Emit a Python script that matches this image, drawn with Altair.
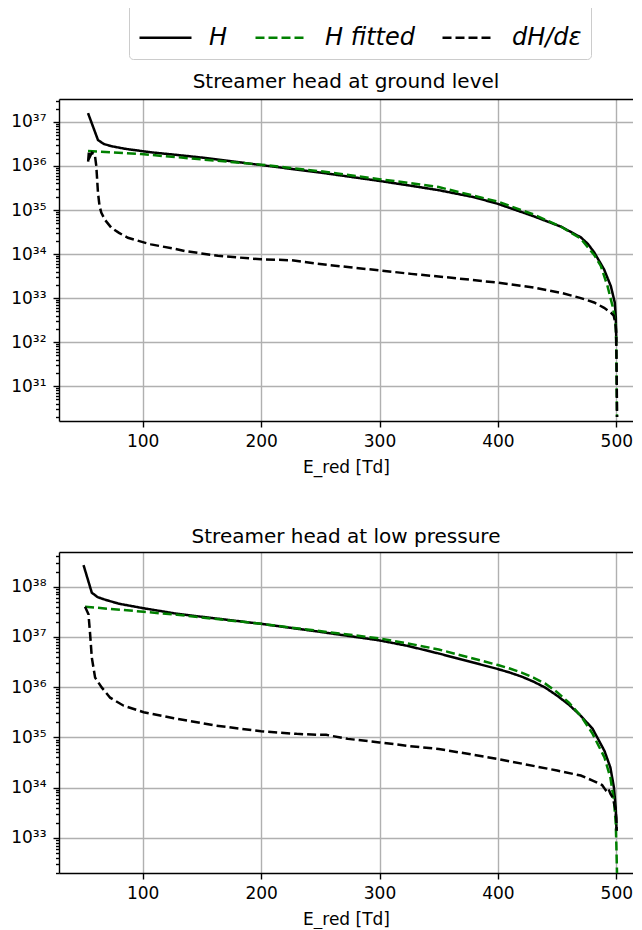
import math
import altair as alt
import pandas as pd

SERIES = ["H", "H fitted", "dH/dε"]
COLORS = ["black", "#008000", "black"]
DASHES = [[1, 0], [9, 4], [9, 4]]
XTICKS = [100, 200, 300, 400, 500]
XDOMAIN = [29.3, 514.1]

TITLE_TOP = "Streamer head at ground level"
TITLE_BOT = "Streamer head at low pressure"

# ---- ground level (values are log10) ----
H_top_E = [53.8, 62.2, 67, 73.4, 85, 98.7, 107, 132.5, 150, 200, 250, 300, 326.6, 350, 380, 400,
           430, 453.4, 470, 476, 481.3, 489.7, 495.4, 498.7, 499.6, 500.0]
H_top_v = [37.2, 36.59, 36.5, 36.45, 36.39, 36.34, 36.31, 36.24, 36.19, 36.02, 35.85, 35.66, 35.55,
           35.45, 35.29, 35.14, 34.86, 34.62, 34.38, 34.23, 34.04, 33.65, 33.27, 32.9, 32.55, 32.0]

G_top_E = [53.8, 98.7, 107, 132.5, 200, 250, 300, 326.6, 350, 400, 430, 453.4, 470, 481.3, 486.9,
           492.6, 496.8, 499.0, 499.6, 500.0, 500.3, 500.6]
G_top_v = [36.34, 36.27, 36.25, 36.19, 36.03, 35.88, 35.70, 35.61, 35.52, 35.19, 34.9, 34.62, 34.35,
           33.98, 33.73, 33.27, 32.82, 32.5, 32.36, 31.8, 31.0, 30.3]

D_top_E = [53.9, 54.6, 55.6, 57.0, 59.5, 60.8, 62.2, 63.5, 65, 68, 73.4, 80, 87.5, 101.5, 107,
           126.8, 135.3, 163.5, 200, 225.3, 247.8, 275, 300, 326.6, 365, 400, 430, 453.4, 470,
           481.3, 489.7, 495.4, 497.8, 499.2, 499.8, 500.1, 500.4, 500.6]
D_top_v = [36.1, 36.34, 36.22, 36.3, 36.27, 36.0, 35.4, 35.1, 34.94, 34.78, 34.6, 34.48, 34.37,
           34.26, 34.22, 34.12, 34.07, 33.96, 33.88, 33.86, 33.78, 33.7, 33.63, 33.55, 33.45,
           33.35, 33.24, 33.12, 33.0, 32.9, 32.78, 32.67, 32.6, 32.45, 32.25, 31.8, 31.0, 30.3]

# ---- low pressure (values are log10) ----
H_bot_E = [50.0, 57.0, 62, 69.7, 80, 100.8, 129, 150, 200, 250, 300, 324, 350, 400, 410, 420,
           430, 440, 450, 460, 470, 480, 490, 495, 498, 499.5, 500.2]
H_bot_v = [38.43, 37.88, 37.79, 37.73, 37.66, 37.57, 37.46, 37.40, 37.26, 37.1, 36.93, 36.82,
           36.67, 36.36, 36.29, 36.21, 36.11, 35.99, 35.83, 35.65, 35.43, 35.17, 34.73, 34.4,
           34.0, 33.6, 33.14]

G_bot_E = [51.3, 100.8, 129, 200, 300, 324, 350, 400, 410, 420, 430, 440, 450, 460, 470, 480,
           490, 495, 498, 499.5, 500.0, 500.3, 500.6]
G_bot_v = [37.6, 37.5, 37.44, 37.26, 36.97, 36.87, 36.75, 36.44, 36.37, 36.29, 36.19, 36.07,
           35.9, 35.69, 35.43, 35.07, 34.6, 34.2, 33.74, 33.3, 32.9, 32.6, 32.3]

D_bot_E = [51.3, 54.2, 55.6, 57.0, 59.8, 65.5, 72.5, 83.9, 100.8, 126.3, 160.2, 200, 230,
           247.8, 255, 273.3, 300, 324, 350, 400, 450, 470, 480, 488, 491, 493, 495, 497, 499,
           500, 500.3]
D_bot_v = [37.6, 37.45, 37.05, 36.59, 36.19, 35.99, 35.79, 35.63, 35.5, 35.38, 35.24, 35.12,
           35.07, 35.05, 35.05, 34.97, 34.9, 34.83, 34.77, 34.57, 34.34, 34.24, 34.14, 34.05,
           33.95, 34.0, 33.88, 33.8, 33.6, 33.4, 33.14]

Y_TOP = [30.21, 37.52]
Y_BOT = [32.30, 38.69]


def long_df(parts):
    rows = []
    for name, es, vs in parts:
        for i, (e, v) in enumerate(zip(es, vs)):
            rows.append({"series": name, "E": e, "H": 10.0 ** v, "i": i})
    return pd.DataFrame(rows)


IS_MAJOR = "abs(log(datum.value)/LN10 - round(log(datum.value)/LN10)) < 0.001"
EXP = "round(log(datum.value)/LN10)"
SUP = "['⁰','¹','²','³','⁴','⁵','⁶','⁷','⁸','⁹']"
LABEL_EXPR = (f"{IS_MAJOR} ? '10' + {SUP}[floor({EXP}/10)] + {SUP}[{EXP}%10] : ''")


def y_ticks(lo, hi):
    vals = []
    for p in range(math.floor(lo), math.ceil(hi) + 1):
        for m in range(1, 10):
            v = m * 10.0 ** p
            if 10 ** lo <= v <= 10 ** hi:
                vals.append(v)
    return vals


def legend():
    return alt.Legend(
        title=None, orient="none", legendX=70, legendY=-98, direction="horizontal",
        columns=3, symbolType="stroke", symbolSize=2704, symbolStrokeWidth=2.5,
        labelFontSize=24, labelFontStyle="italic", labelOffset=16, columnPadding=22,
        padding=9, strokeColor="#cccccc", cornerRadius=4, fillColor="white",
        labelFont="DejaVu Sans", labelColor="black",
    )


def panel(df, title, ydom, height):
    xsc = alt.Scale(domain=XDOMAIN, nice=False, zero=False)
    ysc = alt.Scale(type="log", domain=[10 ** ydom[0], 10 ** ydom[1]], nice=False)
    lines = alt.Chart(df).mark_line(clip=True, strokeWidth=2.5).encode(
        x=alt.X("E:Q", scale=xsc,
                axis=alt.Axis(values=XTICKS, title="E_red [Td]", tickSize=6, labelPadding=6,
                              titlePadding=10, grid=True, format="d", labelFlush=False)),
        y=alt.Y("H:Q", scale=ysc,
                axis=alt.Axis(values=y_ticks(*ydom), labelExpr=LABEL_EXPR, title=None,
                              labelOverlap=False, labelFlush=False, labelPadding=7,
                              tickSize={"condition": {"test": IS_MAJOR, "value": 6}, "value": 3.5},
                              gridOpacity={"condition": {"test": IS_MAJOR, "value": 1}, "value": 0})),
        color=alt.Color("series:N", scale=alt.Scale(domain=SERIES, range=COLORS), legend=legend()),
        strokeDash=alt.StrokeDash("series:N", scale=alt.Scale(domain=SERIES, range=DASHES),
                                  legend=legend()),
        order="i:Q",
    )
    frame = alt.Chart(df).mark_rule(opacity=0).encode(
        x=alt.X("E:Q", scale=xsc,
                axis=alt.Axis(orient="top", labels=False, ticks=False, grid=False, title=None,
                              domain=True))
    )
    return alt.layer(lines, frame).resolve_axis(x="independent").properties(
        width=574, height=height,
        title=alt.TitleParams(title, fontSize=20, fontWeight="normal", font="DejaVu Sans",
                              color="black", offset=0),
    )


df_top = long_df([("H", H_top_E, H_top_v), ("H fitted", G_top_E, G_top_v),
                  ("dH/dε", D_top_E, D_top_v)])
df_bot = long_df([("H", H_bot_E, H_bot_v), ("H fitted", G_bot_E, G_bot_v),
                  ("dH/dε", D_bot_E, D_bot_v)])

chart = alt.vconcat(
    panel(df_top, TITLE_TOP, Y_TOP, 322),
    panel(df_bot, TITLE_BOT, Y_BOT, 321),
    spacing=52,
).properties(
    padding={"left": 2, "top": -8, "right": 0, "bottom": 2},
).configure(
    font="DejaVu Sans",
).configure_view(
    stroke=None,
).configure_axis(
    labelFont="DejaVu Sans", labelFontSize=17, labelColor="black",
    titleFont="DejaVu Sans", titleFontSize=17, titleFontWeight="normal", titleColor="black",
    tickColor="black", tickWidth=1.4, domainColor="black", domainWidth=1.4,
    gridColor="#b0b0b0", gridWidth=1.4,
)

chart.save("out.html", embed_options={"renderer": "svg", "actions": False})
